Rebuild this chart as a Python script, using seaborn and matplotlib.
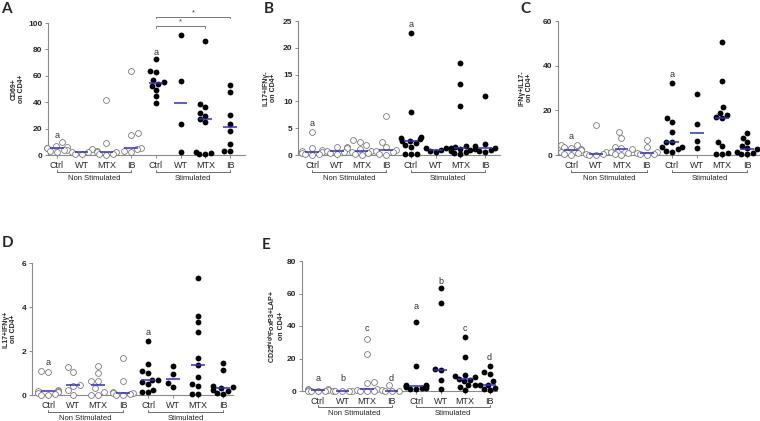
import numpy as np
import pandas as pd
import matplotlib
matplotlib.use("Agg")
import matplotlib.pyplot as plt
import seaborn as sns
from matplotlib.transforms import blended_transform_factory

# ---------------- data ----------------
groups = ["Ctrl", "WT", "MTX", "IB"]
cats = ["NS Ctrl", "NS WT", "NS MTX", "NS IB", "S Ctrl", "S WT", "S MTX", "S IB"]
tick_labels = groups + groups

# Panel A: CD69+ on CD4+
A_ns_ctrl = [10, 7, 6, 5, 5, 4, 3.5, 3, 2]
A_ns_wt = [4.5, 2.5, 2, 1, 0.5]
A_ns_mtx = [41.5, 9, 3, 2, 2, 1, 0.5, 0]
A_ns_ib = [63.5, 17, 15.5, 5, 4.5, 3, 2]
A_s_ctrl = [72.5, 64, 63, 57, 55, 54, 52.5, 49, 44.5, 39.5]
A_s_wt = [91, 56, 23.5, 2]
A_s_mtx = [86, 39, 36.5, 31.5, 29.5, 27, 25, 2, 1.5, 1, 0.5]
A_s_ib = [53, 48, 30, 23.5, 18.5, 8, 3, 3]

# Panel B: IL17+IFNy- on CD4+
B_ns_ctrl = [4.3, 1.3, 1.0, 0.8, 0.5, 0.3, 0.2, 0.1, 0.0]
B_ns_wt = [1.5, 1.5, 1.3, 0.8, 0.5, 0.3, 0.2]
B_ns_mtx = [2.8, 2.5, 1.8, 1.2, 0.8, 0.5, 0.3, 0.2, 0.0]
B_ns_ib = [7.3, 2.5, 1.5, 1.0, 0.8, 0.5, 0.2, 0.0]
B_s_ctrl = [22.8, 8.0, 3.3, 3.2, 3.0, 2.7, 2.6, 2.2, 1.8, 1.5, 0.1, 0.1, 0.1]
B_s_wt = [1.3, 1.3, 1.0, 0.7, 0.6]
B_s_mtx = [17.2, 13.2, 9.1, 1.6, 1.5, 1.3, 1.2, 1.0, 0.8, 0.5, 0.3, 0.1]
B_s_ib = [11.0, 2.0, 1.6, 1.3, 1.2, 1.0, 0.8, 0.6]

# Panel C: IFNy+IL17- on CD4+
C_ns_ctrl = [4.3, 4.3, 3.5, 3.0, 2.5, 2.2, 1.5, 1.0, 0.5, 0.0]
C_ns_wt = [13.3, 1.5, 0.5, 0.3, 0.2, 0.0]
C_ns_mtx = [10.5, 7.7, 3.5, 3.0, 2.6, 1.5, 1.0, 0.5, 0.0]
C_ns_ib = [6.9, 3.7, 1.5, 1.0, 0.5, 0.3, 0.0]
C_s_ctrl = [32.3, 16.4, 15.0, 10.5, 6.0, 5.8, 3.5, 3.5, 2.5, 2.0, 1.5]
C_s_wt = [27.3, 13.8, 6.3, 3.3]
C_s_mtx = [50.4, 33.3, 21.3, 19.0, 18.0, 16.8, 16.5, 6.0, 4.0, 1.0, 0.5, 0.3]
C_s_ib = [10.0, 7.6, 6.0, 4.0, 3.0, 2.5, 1.5, 1.0, 0.5, 0.3]

# Panel D: IL17+IFNy+ on CD4+
D_ns_ctrl = [1.07, 1.05, 0.25, 0.2, 0.17, 0.15, 0.1, 0.05, 0.02, 0.0]
D_ns_wt = [1.27, 1.05, 0.47, 0.42, 0.23, 0.02]
D_ns_mtx = [1.33, 0.98, 0.65, 0.63, 0.3, 0.15, 0.02, 0.02]
D_ns_ib = [1.67, 0.63, 0.15, 0.1, 0.08, 0.05, 0.02, 0.0]
D_s_ctrl = [2.45, 1.43, 1.08, 1.0, 0.7, 0.68, 0.6, 0.5, 0.25, 0.15, 0.12]
D_s_wt = [1.33, 0.94, 0.55, 0.38]
D_s_mtx = [5.33, 3.59, 3.3, 2.85, 1.7, 1.36, 0.8, 0.48, 0.41, 0.05, 0.05]
D_s_ib = [1.44, 1.15, 0.43, 0.37, 0.3, 0.25, 0.2, 0.1, 0.05]

# Panel E: CD25high FoxP3+ LAP+ on CD4+
E_ns_ctrl = [1.5, 1.0, 0.8, 0.5, 0.3, 0.2, 0.0, 0.0]
E_ns_wt = [0.3, 0.2, 0.1, 0.1, 0.0]
E_ns_mtx = [32.2, 22.6, 5.3, 5.2, 1.5, 0.5, 0.3, 0.0, 0.0]
E_ns_ib = [3.9, 0.5, 0.2, 0.1, 0.0]
E_s_ctrl = [42.5, 15.4, 4.0, 3.5, 3.0, 3.0, 2.5, 2.0, 2.0, 1.5, 1.0]
E_s_wt = [63.6, 54.0, 13.5, 12.7, 6.8, 1.4]
E_s_mtx = [33.0, 20.7, 10.0, 9.0, 8.5, 7.5, 7.0, 6.0, 4.0, 3.5, 2.5, 0.5]
E_s_ib = [15.4, 11.9, 10.3, 6.2, 4.0, 3.5, 2.0, 1.0, 0.5]

# letter annotations: (category index, y value, text)
A_letters = [(0, 15, "a"), (4, 77.5, "a")]
B_letters = [(0, 5.9, "a"), (4, 24.4, "a")]
C_letters = [(0, 8.5, "a"), (4, 36, "a")]
D_letters = [(0, 1.48, "a"), (4, 2.83, "a")]
E_letters = [(0, 7.6, "a"), (1, 7.6, "b"), (2, 38.7, "c"), (3, 7.6, "d"),
             (4, 52, "a"), (5, 67.5, "b"), (6, 38.5, "c"), (7, 20.5, "d")]

# ---------------- style ----------------
sns.set_style("ticks")
plt.rcParams["font.family"] = ["Liberation Sans", "DejaVu Sans"]
plt.rcParams["mathtext.default"] = "regular"

W, H = 760, 421
fig = plt.figure(figsize=(W / 100, H / 100), dpi=100)

SPINE = "#8a8a8a"
MED = "#2d2dcf"


def make_df(arrs):
    rows = []
    for c, a in zip(cats, arrs):
        for v in a:
            rows.append({"cat": c, "val": v, "stim": c.split()[0]})
    return pd.DataFrame(rows)


def panel(px, arrs, ymax, yticks, ylabel, letters, letter, letter_xy, xlim, ylab_x):
    left, right, top, bottom = px
    ax = fig.add_axes([left / W, 1 - bottom / H, (right - left) / W, (bottom - top) / H])
    df = make_df(arrs)
    sns.boxplot(data=df, x="cat", y="val", order=cats, width=0.55,
                showbox=False, showcaps=False, showfliers=False,
                whiskerprops={"visible": False},
                medianprops={"color": MED, "linewidth": 1.1, "zorder": 6},
                ax=ax)
    sns.swarmplot(data=df[df.stim == "NS"], x="cat", y="val", order=cats,
                  color="white", edgecolor="#7a7a7a", linewidth=0.6, size=4.2,
                  ax=ax, zorder=3, warn_thresh=1)
    sns.swarmplot(data=df[df.stim == "S"], x="cat", y="val", order=cats,
                  color="black", size=4.2, ax=ax, zorder=3, warn_thresh=1)
    for c in ax.collections:
        c.set_clip_on(False)
    for ln in ax.lines:
        ln.set_clip_on(False)
    ax.set_xlim(*xlim)
    ax.set_ylim(0, ymax)
    ax.set_yticks(yticks)
    ax.set_xticks(range(8))
    ax.set_xticklabels(tick_labels)
    ax.set_xlabel("")
    ax.set_ylabel(ylabel, fontsize=5, fontweight="bold", linespacing=1.1)
    ax.yaxis.set_label_coords(ylab_x, 0.5)
    sns.despine(ax=ax)
    for s in ["left", "bottom"]:
        ax.spines[s].set_color(SPINE)
        ax.spines[s].set_linewidth(0.8)
    ax.tick_params(axis="y", labelsize=6, length=2.5, width=0.7, color=SPINE, pad=1.5)
    ax.tick_params(axis="x", labelsize=6.5, length=2, width=0.7, color=SPINE, pad=2.5)
    for lb in ax.get_yticklabels():
        lb.set_fontweight("bold")
    # group brackets
    tr = blended_transform_factory(ax.transData, ax.transAxes)
    for (a, b), name in [((0, 3), "Non Stimulated"), ((4, 7), "Stimulated")]:
        ax.plot([a, a, b, b], [-0.11, -0.125, -0.125, -0.11], transform=tr,
                color="#555555", lw=0.6, clip_on=False)
        ax.text((a + b) / 2, -0.175, name, transform=tr, ha="center", va="center",
                fontsize=5.5, color="#222222")
    for i, yv, t in letters:
        ax.text(i, yv, t, ha="center", va="center", fontsize=6.5, color="#333333")
    fig.text(letter_xy[0] / W, 1 - letter_xy[1] / H, letter, fontsize=11,
             fontweight="bold", family=["Lato", "DejaVu Sans"], ha="left", va="top")
    return ax


axA = panel((48, 245, 23, 155),
            [A_ns_ctrl, A_ns_wt, A_ns_mtx, A_ns_ib, A_s_ctrl, A_s_wt, A_s_mtx, A_s_ib],
            100, [0, 20, 40, 60, 80, 100], "CD69+\non CD4+", A_letters, "A", (1, 2),
            (-0.36, 7.6), -0.117)
axB = panel((298, 500, 21, 155),
            [B_ns_ctrl, B_ns_wt, B_ns_mtx, B_ns_ib, B_s_ctrl, B_s_wt, B_s_mtx, B_s_ib],
            25, [0, 5, 10, 15, 20, 25], "IL17+IFNγ-\non CD4+", B_letters, "B", (264, 2),
            (-0.57, 7.6), -0.104)
axC = panel((558, 760, 21, 155),
            [C_ns_ctrl, C_ns_wt, C_ns_mtx, C_ns_ib, C_s_ctrl, C_s_wt, C_s_mtx, C_s_ib],
            60, [0, 20, 40, 60], "IFNγ+IL17-\non CD4+", C_letters, "C", (520, 2),
            (-0.52, 7.5), -0.124)
axD = panel((32, 233, 263, 395),
            [D_ns_ctrl, D_ns_wt, D_ns_mtx, D_ns_ib, D_s_ctrl, D_s_wt, D_s_mtx, D_s_ib],
            6, [0, 2, 4, 6], "IL17+IFNγ+\non CD4+", D_letters, "D", (2, 236),
            (-0.64, 7.4), -0.075)
axE = panel((302, 497, 261, 391),
            [E_ns_ctrl, E_ns_wt, E_ns_mtx, E_ns_ib, E_s_ctrl, E_s_wt, E_s_mtx, E_s_ib],
            80, [0, 20, 40, 60, 80], "CD25$^{high}$FoxP3+LAP+\non CD4+", E_letters, "E",
            (262, 238), (-0.65, 7.3), -0.087)

# significance brackets on panel A
for a, b, y in [(4, 7, 104.8), (4, 6, 97.7)]:
    axA.plot([a, a, b, b], [y - 1.2, y, y, y - 1.2], color="#777777", lw=0.7, clip_on=False)
    axA.text((a + b) / 2, y + 0.3, "*", ha="center", va="bottom", fontsize=5.5,
             color="#444444")

fig.savefig("out.png", dpi=100)
